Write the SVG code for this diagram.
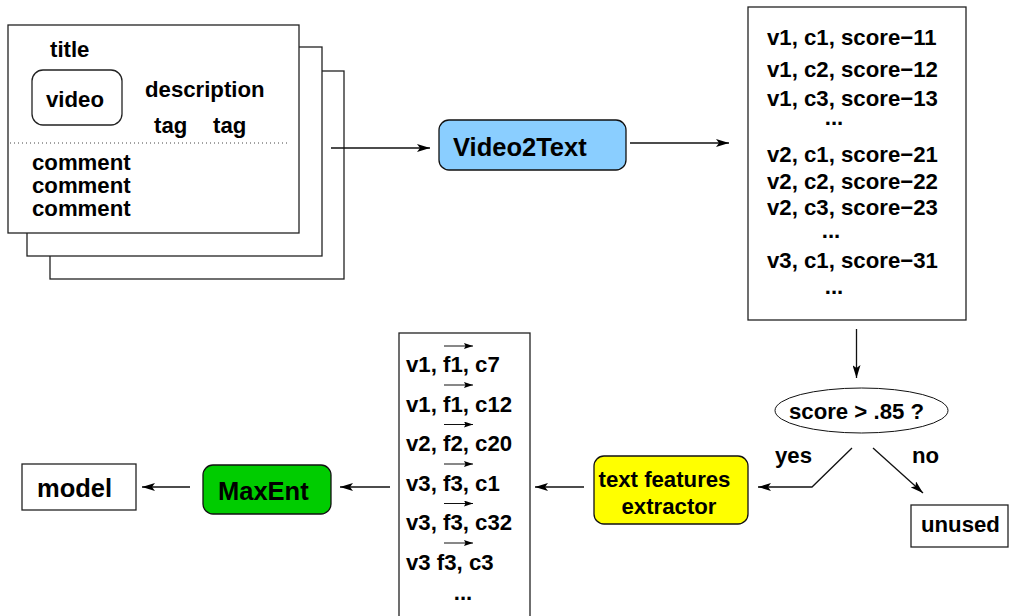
<svg xmlns="http://www.w3.org/2000/svg" width="1010" height="616" viewBox="0 0 1010 616">
  <style>
    text { font-family: "Liberation Sans", Arial, sans-serif; font-weight: bold; font-size: 22.2px; fill: #000; }
    .big { font-size: 25.5px; }
    .box { fill: #fff; stroke: #222; stroke-width: 1.3; }
    .wire { fill: none; stroke: #111; stroke-width: 1.3; }
    .vec { fill: none; stroke: #111; stroke-width: 1; }
    .mid { text-anchor: middle; }
  </style>
  <defs>
    <marker id="head" viewBox="0 0 13 8" refX="13" refY="4" markerWidth="13" markerHeight="8" markerUnits="userSpaceOnUse" orient="auto">
      <path d="M0,0 L13,4 L0,8 L3,4 Z" fill="#000"/>
    </marker>
    <marker id="vhead" viewBox="0 0 9 6" refX="9" refY="3" markerWidth="9" markerHeight="6" markerUnits="userSpaceOnUse" orient="auto">
      <path d="M0,0 L9,3 L0,6 L1.5,3 Z" fill="#000"/>
    </marker>
  </defs>

  <!-- stacked page cards -->
  <g id="pages">
    <rect class="box" x="50" y="71" width="294" height="208"/>
    <rect class="box" x="27" y="47" width="295" height="209"/>
    <rect class="box" x="8" y="25" width="291" height="208"/>
    <text x="50" y="57">title</text>
    <rect class="box" x="32" y="70" width="90" height="55" rx="11"/>
    <text x="46" y="107">video</text>
    <text x="145" y="97">description</text>
    <text x="154" y="133">tag</text>
    <text x="213" y="133">tag</text>
    <line x1="10" y1="143" x2="290" y2="143" stroke="#444" stroke-width="1" stroke-dasharray="1 3"/>
    <text x="32" y="170">comment</text>
    <text x="32" y="193">comment</text>
    <text x="32" y="216">comment</text>
  </g>

  <g id="video2text">
    <rect x="439" y="120" width="187" height="50" rx="10" fill="#8ACEFF" stroke="#111" stroke-width="1.3"/>
    <text class="big" x="453" y="156">Video2Text</text>
  </g>

  <g id="scores">
    <rect class="box" x="748" y="7" width="218" height="313"/>
    <text x="767" y="45">v1, c1, score−11</text>
    <text x="767" y="77">v1, c2, score−12</text>
    <text x="767" y="106">v1, c3, score−13</text>
    <text class="mid" x="834" y="125">...</text>
    <text x="767" y="162">v2, c1, score−21</text>
    <text x="767" y="189">v2, c2, score−22</text>
    <text x="767" y="215">v2, c3, score−23</text>
    <text class="mid" x="831" y="238">...</text>
    <text x="767" y="268">v3, c1, score−31</text>
    <text class="mid" x="834" y="294">...</text>
  </g>

  <g id="threshold">
    <ellipse cx="861.5" cy="410.5" rx="86.5" ry="22.5" fill="#fff" stroke="#111" stroke-width="1"/>
    <text x="789" y="419">score &gt; .85 ?</text>
  </g>

  <g id="unused">
    <rect class="box" x="911" y="505" width="97" height="42"/>
    <text x="921" y="532">unused</text>
  </g>

  <g id="extractor">
    <rect x="594" y="456" width="154" height="68" rx="10" fill="#FFFF00" stroke="#111" stroke-width="1.3"/>
    <text class="mid" x="664.5" y="487">text features</text>
    <text class="mid" x="669" y="514">extractor</text>
  </g>

  <g id="features">
    <rect class="box" x="399" y="333" width="131" height="290"/>
    <text x="406" y="372">v1, f1, c7</text>
    <text x="406" y="411.5">v1, f1, c12</text>
    <text x="406" y="451">v2, f2, c20</text>
    <text x="406" y="490.5">v3, f3, c1</text>
    <text x="406" y="530">v3, f3, c32</text>
    <text x="406" y="569.5">v3 f3, c3</text>
    <text class="mid" x="463" y="600">...</text>
    <path class="vec" marker-end="url(#vhead)" d="M444,346 H473"/>
    <path class="vec" marker-end="url(#vhead)" d="M444,385 H473"/>
    <path class="vec" marker-end="url(#vhead)" d="M444,424.5 H473"/>
    <path class="vec" marker-end="url(#vhead)" d="M444,464 H473"/>
    <path class="vec" marker-end="url(#vhead)" d="M444,503.5 H473"/>
    <path class="vec" marker-end="url(#vhead)" d="M444,543 H473"/>
  </g>

  <g id="maxent">
    <rect x="203" y="465" width="128" height="49" rx="10" fill="#00CC00" stroke="#111" stroke-width="1.3"/>
    <text class="big" x="218" y="500">MaxEnt</text>
  </g>

  <g id="model">
    <rect class="box" x="22" y="464" width="114" height="46"/>
    <text class="big" x="37" y="497">model</text>
  </g>

  <!-- connectors -->
  <g id="connectors">
    <path class="wire" marker-end="url(#head)" d="M331,148 H430"/>
    <path class="wire" marker-end="url(#head)" d="M630,143 H729"/>
    <path class="wire" marker-end="url(#head)" d="M856.5,329 V378"/>
    <path class="wire" marker-end="url(#head)" d="M852,448 L812,487 H758"/>
    <path class="wire" marker-end="url(#head)" d="M873,448 L923,493"/>
    <path class="wire" marker-end="url(#head)" d="M584,487 H535"/>
    <path class="wire" marker-end="url(#head)" d="M390,487 H340"/>
    <path class="wire" marker-end="url(#head)" d="M190,487 H142"/>
    <text x="775" y="463">yes</text>
    <text x="912" y="463">no</text>
  </g>
</svg>
